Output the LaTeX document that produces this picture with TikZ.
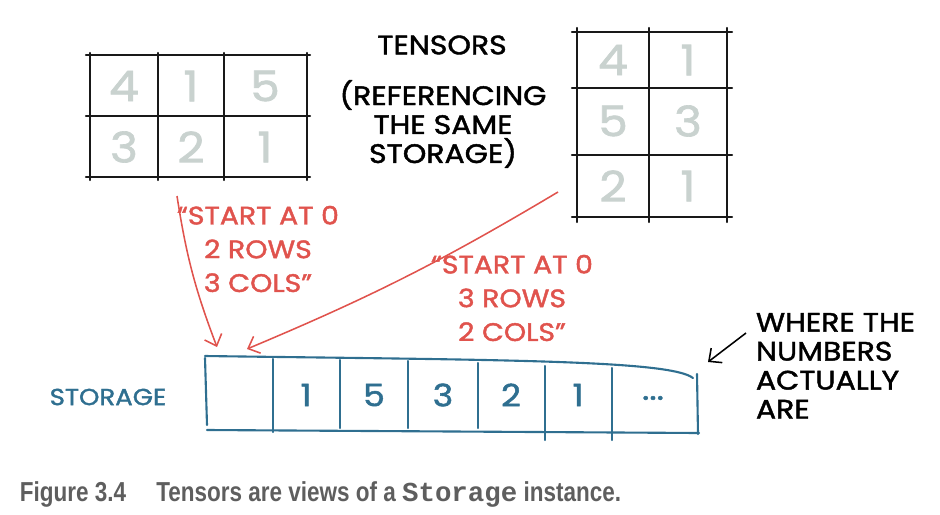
\documentclass[tikz,border=0pt]{standalone}
\usepackage{fontspec}
\setmainfont{Poppins}
\setmonofont{Liberation Mono}
\newfontfamily\handfont[FakeStretch=1.12,FakeBold=1.6]{Poppins}
\newfontfamily\capfont[FakeStretch=0.82]{Liberation Sans}
\usetikzlibrary{arrows.meta}
\definecolor{inkred}{HTML}{E0534D}
\definecolor{inkblue}{HTML}{2F6F90}
\definecolor{digitgray}{HTML}{C9D2CF}
\definecolor{capgray}{HTML}{5E5E5E}
\tikzstyle{gridline}=[line width=1.7pt,black!90,line cap=round]
\tikzstyle{digit}=[font=\handfont\fontsize{30}{30}\selectfont,text=digitgray]
\tikzstyle{storeline}=[line width=1.5pt,inkblue,line cap=round]
\tikzstyle{cell}=[font=\handfont\fontsize{22}{22}\selectfont,text=inkblue]
\tikzstyle{hand}=[font=\handfont\fontsize{19}{20.6}\selectfont,align=center]
\tikzstyle{note}=[hand,text=inkred,font=\handfont\fontsize{18}{24}\selectfont]
\tikzstyle{pointer}=[draw,inkred,line width=1.1pt,-{Straight Barb[length=7pt,width=13pt]}]

\begin{document}
\begin{tikzpicture}[x=0.025cm, y=-0.025cm]
    \useasboundingbox (0,0) rectangle (940,514);

    % tensor with 2 rows, 3 cols
    \foreach \x in {90,158,224,307}
        \draw[gridline] (\x,53) -- (\x,180);
    \foreach \y in {55,116,177}
        \draw[gridline] (86,\y) -- (310,\y);
    \foreach \pos/\name/\val in {{(124,86)/la/4}, {(191,86)/lb/1}, {(265,86)/lc/5},
                                 {(124,147)/ld/3}, {(191,147)/le/2}, {(265,147)/lf/1}}
        \node[digit] (\name) at \pos {\val};

    % tensor with 3 rows, 2 cols
    \foreach \x in {577,649,727}
        \draw[gridline] (\x,28) -- (\x,222);
    \foreach \y in {32,88,155,217}
        \draw[gridline] (572,\y) -- (732,\y);
    \foreach \pos/\name/\val in {{(613,60)/ra/4}, {(688,60)/rb/1}, {(613,121)/rc/5},
                                 {(688,121)/rd/3}, {(613,186)/re/2}, {(688,186)/rf/1}}
        \node[digit] (\name) at \pos {\val};

    \node[hand] (tensors) at (442,45) {TENSORS};
    \node[hand] (sameref) at (443,124) {(REFERENCING\\THE SAME\\STORAGE)};

    % storage
    \draw[storeline] (205,356) .. controls (500,360) and (670,360) .. (693,378);
    \draw[storeline] (205,358) -- (207,425);
    \draw[storeline] (697,374) -- (698,434);
    \draw[storeline] (207,430) -- (699,433);
    \foreach \x/\yt/\yb in {273/359/432, 340/360/428, 408/361/428, 478/363/428, 545/366/440, 612/368/440}
        \draw[storeline] (\x,\yt) -- (\x,\yb);

    \node (s0) at (239,395) {};
    \foreach \pos/\name/\val in {{(306,395)/s1/1}, {(374,395)/s2/5}, {(443,395)/s3/3},
                                 {(511,395)/s4/2}, {(578,395)/s5/1}}
        \node[cell] (\name) at \pos {\val};
    \node[cell] (s6) at (653,398) {...};
    \node[hand,text=inkblue,font=\handfont\fontsize{16.5}{17}\selectfont] (storage) at (108,397) {STORAGE};

    % views
    \node[note] (view1) at (258,249) {“START AT 0\\2 ROWS\\3 COLS”};
    \node[note] (view2) at (512,298) {“START AT 0\\3 ROWS\\2 COLS”};
    \coordinate (from1) at (177,196);
    \coordinate (from2) at (558,192);
    \coordinate (hit1) at ([shift={(-22,-48)}]s0.center);
    \coordinate (hit2) at ([shift={(8,-46)}]s0.center);
    \draw[pointer] (from1) to[bend right=6] (hit1);
    \draw[pointer] (from2) to[bend left=4] (hit2);

    \node[hand,align=left,anchor=north west] (where) at (751,308) {WHERE THE\\NUMBERS\\ACTUALLY\\ARE};
    \coordinate (tail) at (746,333);
    \coordinate (tip) at (708,362);
    \draw[pointer,black] (tail) -- (tip);

    \node[anchor=base west,text=capgray,font=\capfont\bfseries\fontsize{19.5}{22}\selectfont] (caption) at (15,501)
        {Figure 3.4\hspace{1.1em}Tensors are views of a {\ttfamily Storage} instance.};
\end{tikzpicture}
\end{document}
